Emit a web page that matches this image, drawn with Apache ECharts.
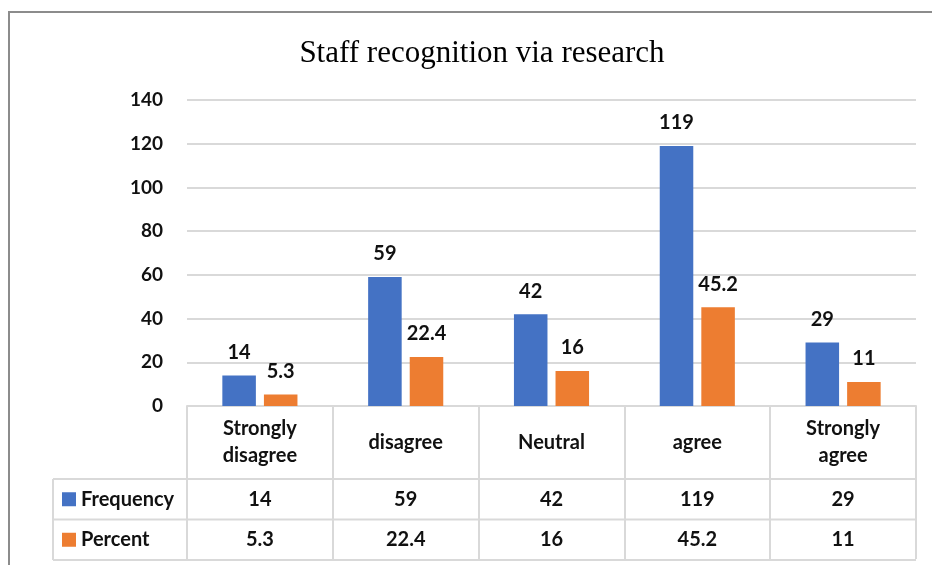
<!DOCTYPE html>
<html>
<head>
<meta charset="utf-8">
<title>Staff recognition via research</title>
<script src="https://cdn.jsdelivr.net/npm/echarts@6/dist/echarts.min.js"></script>
<style>
  html, body { margin: 0; padding: 0; background: #fff; }
  #chart { width: 932px; height: 565px; }
</style>
</head>
<body>
<div id="chart"></div>
<script>
  // data
  const categories = ['Strongly\ndisagree', 'disagree', 'Neutral', 'agree', 'Strongly\nagree'];
  const seriesNames = ['Frequency', 'Percent'];
  const frequency = [14, 59, 42, 119, 29];
  const percent = [5.3, 22.4, 16, 45.2, 11];
  const colors = ['#4472C4', '#ED7D31'];

  const font = 'Lato, "Open Sans", sans-serif';
  const textWeight = 'bold';
  const textColor = '#111';
  const gridLine = '#d9d9d9';

  const chart = echarts.init(document.getElementById('chart'));

  const labelStyle = {
    show: true,
    position: 'top',
    distance: 13,
    fontFamily: font,
    fontSize: 20,
    fontWeight: textWeight,
    color: textColor
  };

  chart.setOption({
    animation: false,
    title: {
      text: 'Staff recognition via research',
      left: 477,
      textAlign: 'center',
      top: 33,
      textStyle: {
        fontFamily: '"Liberation Serif", "Times New Roman", serif',
        fontWeight: 'normal',
        fontSize: 31,
        color: '#000'
      }
    },
    grid: { left: 187, right: 16, top: 100, bottom: 159 },
    xAxis: {
      type: 'category',
      data: categories,
      axisLabel: { show: false },
      axisLine: { lineStyle: { color: gridLine, width: 2 } },
      // vertical table lines hang from the category boundaries
      axisTick: { show: true, length: 153, lineStyle: { color: gridLine, width: 2 } }
    },
    yAxis: {
      type: 'value',
      min: 0,
      max: 140,
      interval: 20,
      axisLine: { show: false },
      axisTick: { show: false },
      axisLabel: { fontFamily: font, fontSize: 19, fontWeight: textWeight, color: textColor, margin: 24 },
      splitLine: { lineStyle: { color: gridLine, width: 2 } }
    },
    series: [
      {
        name: seriesNames[0], type: 'bar', data: frequency,
        barWidth: '23%', barGap: '24%',
        itemStyle: { color: colors[0] },
        label: labelStyle
      },
      {
        name: seriesNames[1], type: 'bar', data: percent,
        barWidth: '23%',
        itemStyle: { color: colors[1] },
        label: labelStyle
      }
    ]
  });

  // data table under the axis, placed from the category axis positions
  function drawTable() {
    const c0 = chart.convertToPixel({ xAxisIndex: 0 }, 0);
    const c1 = chart.convertToPixel({ xAxisIndex: 0 }, 1);
    const band = c1 - c0;
    const left = c0 - band / 2;
    const right = left + band * categories.length;
    const axisY = chart.convertToPixel({ yAxisIndex: 0 }, 0);
    const headBottom = axisY + 73;
    const rowH = 40.5;
    const tableLeft = 53;
    const els = [];
    const line = (x1, y1, x2, y2) => ({
      type: 'line', silent: true,
      shape: { x1: x1, y1: y1, x2: x2, y2: y2 },
      style: { stroke: gridLine, lineWidth: 2 }
    });
    const txt = (x, y, s, align) => ({
      type: 'text', silent: true, x: x, y: y,
      style: {
        text: s, fontFamily: font, fontSize: 20, fontWeight: textWeight, fill: textColor,
        align: align || 'center', verticalAlign: 'middle', lineHeight: 27
      }
    });

    // outer frame of the chart
    els.push({
      type: 'rect', silent: true,
      shape: { x: 9, y: 12, width: 940, height: 600 },
      style: { fill: null, stroke: '#8c8c8c', lineWidth: 2 }
    });

    // horizontal lines of the series rows
    for (let r = 0; r <= seriesNames.length; r++) {
      const y = headBottom + r * rowH;
      els.push(line(tableLeft, y, right, y));
    }
    els.push(line(tableLeft, headBottom, tableLeft, headBottom + rowH * seriesNames.length));

    // header cells
    categories.forEach((c, i) => {
      els.push(txt(left + band * (i + 0.5), (axisY + headBottom) / 2, c));
    });

    // series rows
    const rows = [frequency, percent];
    rows.forEach((vals, r) => {
      const cy = headBottom + rowH * (r + 0.5);
      els.push({
        type: 'rect', silent: true,
        shape: { x: 62, y: cy - 7, width: 14, height: 14 },
        style: { fill: colors[r] }
      });
      els.push(txt(81, cy, seriesNames[r], 'left'));
      vals.forEach((v, i) => {
        els.push(txt(left + band * (i + 0.5), cy, String(v)));
      });
    });

    chart.setOption({ graphic: { elements: els } });
  }
  drawTable();
</script>
</body>
</html>
